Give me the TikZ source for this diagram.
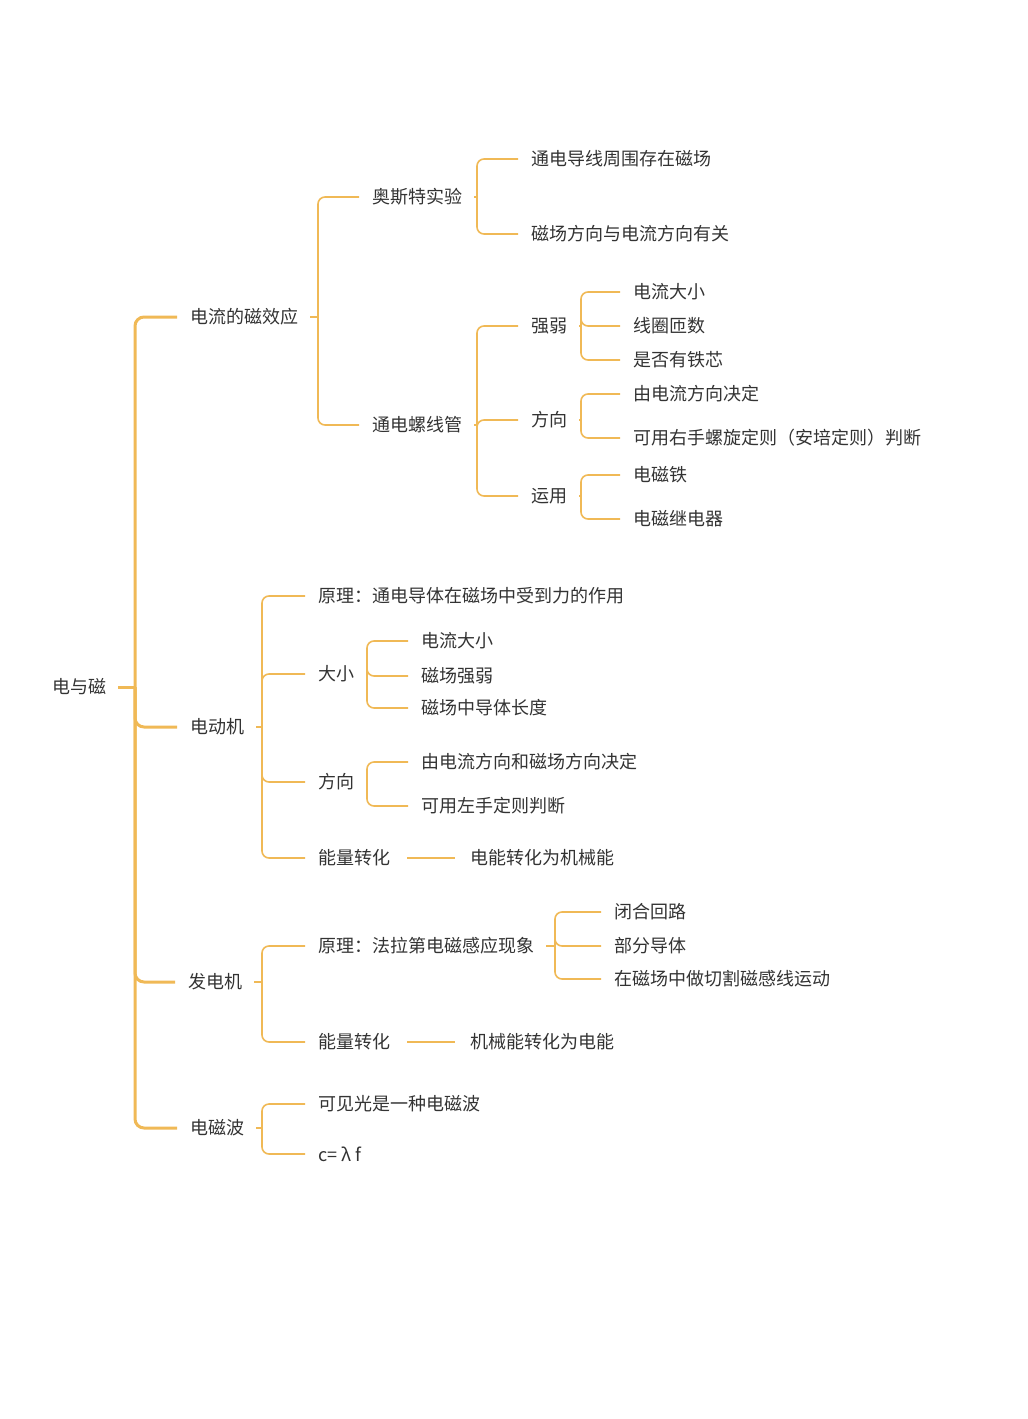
\documentclass[tikz,border=0pt]{standalone}
\usepackage{fontspec}
\setmainfont{Noto Sans CJK SC}
\definecolor{linkcol}{HTML}{F0B956}
\definecolor{txtcol}{HTML}{333333}
\tikzset{
  topic/.style={anchor=west,inner sep=0pt,text=txtcol,font=\fontsize{18}{20}\selectfont},
  link/.style={draw=linkcol,line width=1.6pt,rounded corners=7pt},
  trunk/.style={draw=linkcol,line width=3pt,rounded corners=9pt}
}
% bracket: parent node, x of vertical bar, list of children
\newcommand{\fork}[4][link]{%
  \path (#2.east) ++(12pt,0) coordinate (st);
  \draw[#1] (st) -- (#3,0 |- st);
  \foreach \c in {#4} {\draw[#1] (#3,0 |- st) |- ([xshift=-13pt]\c.west);}
}
\begin{document}
\begin{tikzpicture}[x=1pt,y=-1pt]
\useasboundingbox (0,0) rectangle (1028,1419);
% root and first level
\node[topic] (root) at (52,687) {电与磁};
\node[topic] (mag) at (190,317) {电流的磁效应};
\node[topic] (mot) at (190,727) {电动机};
\node[topic] (gen) at (188,982) {发电机};
\node[topic] (wav) at (190,1128) {电磁波};
% electromagnetic effect
\node[topic] (oer) at (372,197) {奥斯特实验};
\node[topic] (sol) at (372,425) {通电螺线管};
\node[topic] (oer1) at (531,159) {通电导线周围存在磁场};
\node[topic] (oer2) at (531,234) {磁场方向与电流方向有关};
\node[topic] (str) at (531,326) {强弱};
\node[topic] (dir) at (531,420) {方向};
\node[topic] (use) at (531,496) {运用};
\node[topic] (str1) at (633,292) {电流大小};
\node[topic] (str2) at (633,326) {线圈匝数};
\node[topic] (str3) at (633,360) {是否有铁芯};
\node[topic] (dir1) at (633,394) {由电流方向决定};
\node[topic] (dir2) at (633,438) {可用右手螺旋定则（安培定则）判断};
\node[topic] (use1) at (633,475) {电磁铁};
\node[topic] (use2) at (633,519) {电磁继电器};
% motor
\node[topic] (mp) at (318,596) {原理：通电导体在磁场中受到力的作用};
\node[topic] (ms) at (318,674) {大小};
\node[topic] (md) at (318,782) {方向};
\node[topic] (me) at (318,858) {能量转化};
\node[topic] (ms1) at (421,641) {电流大小};
\node[topic] (ms2) at (421,676) {磁场强弱};
\node[topic] (ms3) at (421,708) {磁场中导体长度};
\node[topic] (md1) at (421,762) {由电流方向和磁场方向决定};
\node[topic] (md2) at (421,806) {可用左手定则判断};
\node[topic] (me1) at (470,858) {电能转化为机械能};
% generator
\node[topic] (gp) at (318,946) {原理：法拉第电磁感应现象};
\node[topic] (ge) at (318,1042) {能量转化};
\node[topic] (gp1) at (614,912) {闭合回路};
\node[topic] (gp2) at (614,946) {部分导体};
\node[topic] (gp3) at (614,979) {在磁场中做切割磁感线运动};
\node[topic] (ge1) at (470,1042) {机械能转化为电能};
% waves
\node[topic] (w1) at (318,1104) {可见光是一种电磁波};
\node[topic] (w2) at (318,1154) {c= λ f};
% links
\fork[trunk]{root}{135}{mag,mot,gen,wav}
\fork{mag}{318}{oer,sol}
\fork{oer}{477}{oer1,oer2}
\fork{sol}{477}{str,dir,use}
\fork{str}{581}{str1,str2,str3}
\fork{dir}{581}{dir1,dir2}
\fork{use}{581}{use1,use2}
\fork{mot}{262}{mp,ms,md,me}
\fork{ms}{367}{ms1,ms2,ms3}
\fork{md}{367}{md1,md2}
\fork{gen}{262}{gp,ge}
\fork{gp}{555}{gp1,gp2,gp3}
\fork{wav}{262}{w1,w2}
\draw[link] ([xshift=17pt]me.east) -- ([xshift=-15pt]me1.west);
\draw[link] ([xshift=17pt]ge.east) -- ([xshift=-15pt]ge1.west);
\end{tikzpicture}
\end{document}
